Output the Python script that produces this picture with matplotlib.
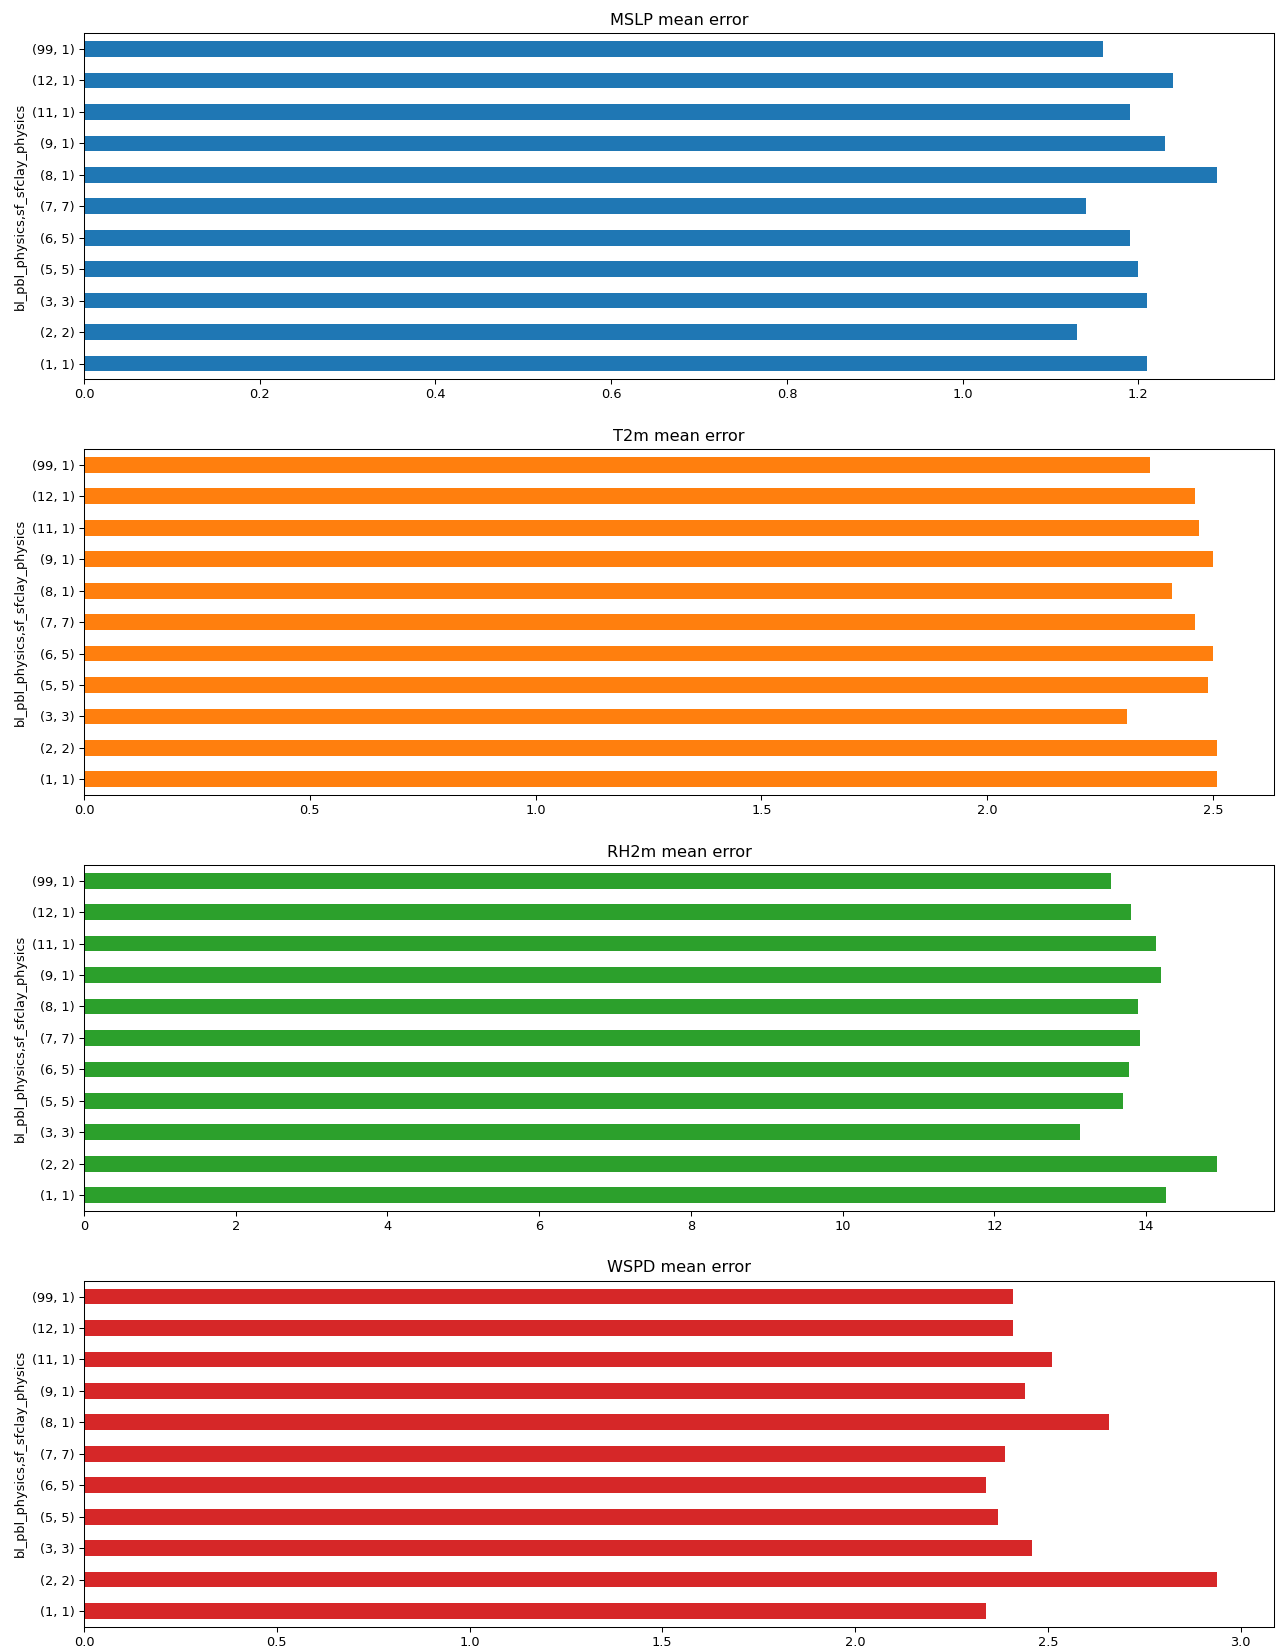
import numpy as np
from matplotlib import pyplot as plt

# (bl_pbl_physics, sf_sfclay_physics) combinations, bottom to top
combos = ['(1, 1)', '(2, 2)', '(3, 3)', '(5, 5)', '(6, 5)', '(7, 7)',
          '(8, 1)', '(9, 1)', '(11, 1)', '(12, 1)', '(99, 1)']

mslp_err = [1.21, 1.13, 1.21, 1.20, 1.19, 1.14, 1.29, 1.23, 1.19, 1.24, 1.16]
t2m_err = [2.51, 2.51, 2.31, 2.49, 2.50, 2.46, 2.41, 2.50, 2.47, 2.46, 2.36]
rh2m_err = [14.26, 14.94, 13.13, 13.69, 13.78, 13.92, 13.89, 14.20, 14.13, 13.80, 13.54]
wspd_err = [2.34, 2.94, 2.46, 2.37, 2.34, 2.39, 2.66, 2.44, 2.51, 2.41, 2.41]

titles = ['MSLP mean error', 'T2m mean error', 'RH2m mean error', 'WSPD mean error']
series = [mslp_err, t2m_err, rh2m_err, wspd_err]
colors = ['tab:blue', 'tab:orange', 'tab:green', 'tab:red']

DPI = 93
fig, axes = plt.subplots(4, 1, figsize=(1277 / DPI, 1649 / DPI), dpi=DPI)
fig.subplots_adjust(left=0.0658, right=0.9977, top=0.9798, bottom=0.0135, hspace=0.202)

pos = np.arange(len(combos))
for ax, vals, title, color in zip(axes, series, titles, colors):
    ax.barh(pos, vals, height=0.5, color=color)
    ax.set_yticks(pos)
    ax.set_yticklabels(combos)
    ax.set_ylim(-0.5, len(combos) - 0.5)
    ax.set_ylabel('bl_pbl_physics,sf_sfclay_physics')
    ax.set_title(title, fontsize=12.5, pad=6.5)

plt.savefig('out.png', dpi=DPI)
